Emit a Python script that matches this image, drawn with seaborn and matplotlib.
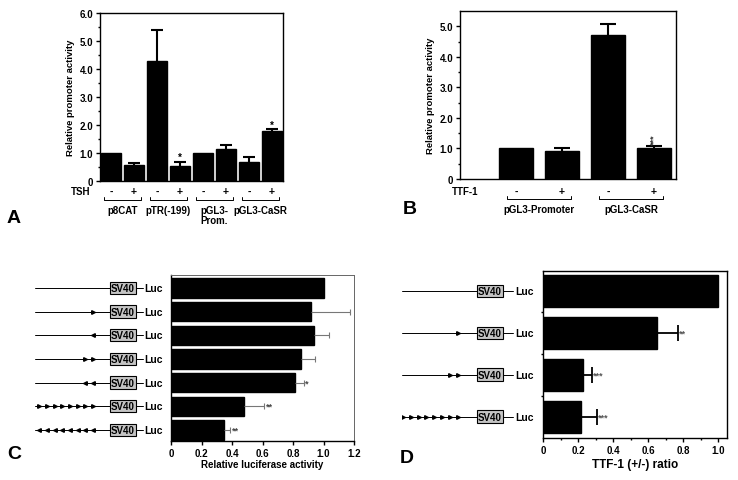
import matplotlib
matplotlib.use("Agg")
import matplotlib.pyplot as plt
import matplotlib.transforms as mtransforms
import numpy as np
import pandas as pd
import seaborn as sns

# ---- data ----
a_labels = ["p8CAT -", "p8CAT +", "pTR -", "pTR +", "Prom -", "Prom +", "CaSR -", "CaSR +"]
a_values = [1.0, 0.56, 4.30, 0.53, 1.0, 1.15, 0.68, 1.77]
a_sem = [0.0, 0.08, 1.10, 0.15, 0.0, 0.15, 0.18, 0.07]
a_stars = ["", "", "", "*", "", "", "", "*"]
a_signs = ["-", "+", "-", "+", "-", "+", "-", "+"]
a_groups = ["p8CAT", "pTR(-199)", "pGL3-\nProm.", "pGL3-CaSR"]

b_labels = ["Prom -", "Prom +", "CaSR -", "CaSR +"]
b_values = [1.0, 0.93, 4.72, 1.0]
b_sem = [0.0, 0.08, 0.36, 0.08]
b_stars = ["", "", "", "***"]
b_signs = ["-", "+", "-", "+"]
b_groups = ["pGL3-Promoter", "pGL3-CaSR"]

c_rows = ["c1", "c2", "c3", "c4", "c5", "c6", "c7"]
c_values = [1.0, 0.92, 0.935, 0.855, 0.815, 0.48, 0.345]
c_sem = [0.0, 0.255, 0.10, 0.09, 0.055, 0.13, 0.045]
c_stars = ["", "", "", "", "*", "**", "**"]
c_arrows = [0, 1, 1, 2, 2, 8, 8]
c_dirs = ["", ">", "<", ">", "<", ">", "<"]

d_rows = ["d1", "d2", "d3", "d4"]
d_values = [1.0, 0.65, 0.228, 0.218]
d_sem = [0.0, 0.118, 0.053, 0.091]
d_stars = ["", "**", "***", "***"]
d_arrows = [0, 1, 2, 8]
d_dirs = ["", ">", ">", ">"]

W, H = 738, 481
sns.set_theme(style="ticks")
plt.rcParams["font.family"] = ["Liberation Sans", "DejaVu Sans"]
plt.rcParams.update({
    "font.weight": "bold",
    "axes.labelweight": "bold",
    "text.color": "black",
    "axes.labelcolor": "black",
    "axes.edgecolor": "black",
    "xtick.color": "black",
    "ytick.color": "black",
    "axes.linewidth": 1.0,
    "xtick.major.width": 1.0,
    "ytick.major.width": 1.0,
    "xtick.major.size": 3,
    "ytick.major.size": 3,
    "xtick.major.pad": 2,
    "ytick.major.pad": 2,
})

fig = plt.figure(figsize=(W / 100, H / 100), dpi=100)


def px_axes(left, top, right, bottom, **kw):
    return fig.add_axes([left / W, 1 - bottom / H, (right - left) / W, (bottom - top) / H], **kw)


def one_sided(ax, pos, vals, sem, horizontal=False, **kw):
    idx = [i for i, s in enumerate(sem) if s > 0]
    p = np.array(pos, dtype=float)[idx]
    v = np.array(vals)[idx]
    e = np.array(sem)[idx]
    err = [np.zeros_like(e), e]
    if horizontal:
        cont = ax.errorbar(v, p, xerr=err, fmt="none", **kw)
    else:
        cont = ax.errorbar(p, v, yerr=err, fmt="none", **kw)
    cont[1][0].set_visible(False)


def under_labels(ax, signs, groups, title, sign_y, br_y, lab_y, br_lo, br_hi, title_x):
    tr = mtransforms.blended_transform_factory(ax.transData, ax.transAxes)
    for i, s in enumerate(signs):
        ax.text(i, sign_y, s, transform=tr, ha="center", va="center", fontsize=7.5, clip_on=False)
    ax.text(title_x, sign_y, title, transform=tr, ha="left", va="center", fontsize=7, clip_on=False)
    for g, name in enumerate(groups):
        x0, x1 = 2 * g + br_lo, 2 * g + br_hi
        ax.plot([x0, x0, x1, x1], [br_y + 0.018, br_y, br_y, br_y + 0.018], transform=tr,
                color="black", lw=0.7, clip_on=False)
        ax.text(2 * g + 0.5, lab_y, name, transform=tr, ha="center", va="top", fontsize=7,
                linespacing=1.0, clip_on=False)


# ---------------- panel A ----------------
ax_a = px_axes(100, 14, 283, 182)
df_a = pd.DataFrame({"bar": a_labels, "value": a_values})
sns.barplot(data=df_a, x="bar", y="value", color="black", edgecolor="black", width=0.9,
            saturation=1, ax=ax_a)
one_sided(ax_a, range(len(a_values)), a_values, a_sem, ecolor="black", elinewidth=1.5,
          capsize=4, capthick=1.5)
for i, s in enumerate(a_stars):
    if s:
        ax_a.text(i, a_values[i] + a_sem[i] + 0.0, s, ha="center", va="bottom", fontsize=7)
ax_a.set_xlim(-0.48, 7.48)
ax_a.set_ylim(0, 6.0)
ax_a.set_yticks(np.arange(0, 6.1, 1.0))
ax_a.set_yticklabels(["0"] + [f"{v:.1f}" for v in np.arange(1, 6.1, 1.0)], fontsize=7)
ax_a.set_yticks(np.arange(0.5, 6.0, 1.0), minor=True)
ax_a.tick_params(axis="y", which="minor", length=1.5)
ax_a.set_xticks([])
ax_a.set_xlabel("")
ax_a.set_ylabel("Relative promoter activity", fontsize=6.8, labelpad=3)
under_labels(ax_a, a_signs, a_groups, "TSH", -0.06, -0.113, -0.14, -0.3, 1.3, -1.75)
fig.text(7 / W, 1 - 227 / H, "A", fontsize=14, fontweight="bold", va="bottom")

# ---------------- panel B ----------------
ax_b = px_axes(460, 12, 676, 180)
df_b = pd.DataFrame({"bar": b_labels, "value": b_values})
sns.barplot(data=df_b, x="bar", y="value", color="black", edgecolor="black", width=0.74,
            saturation=1, ax=ax_b)
one_sided(ax_b, range(len(b_values)), b_values, b_sem, ecolor="black", elinewidth=1.5,
          capsize=5.5, capthick=1.5)
for i, s in enumerate(b_stars):
    if s:
        ax_b.text(i, b_values[i] + b_sem[i] + 0.06, s, ha="center", va="bottom", fontsize=6.5,
                  rotation=90, color="#333333")
ax_b.set_xlim(-1.22, 3.48)
ax_b.set_ylim(0, 5.5)
ax_b.set_yticks(np.arange(0, 5.1, 1.0))
ax_b.set_yticklabels(["0"] + [f"{v:.1f}" for v in np.arange(1, 5.1, 1.0)], fontsize=7)
ax_b.set_yticks(np.arange(0.5, 5.5, 1.0), minor=True)
ax_b.tick_params(axis="y", which="minor", length=1.5)
ax_b.set_xticks([])
ax_b.set_xlabel("")
ax_b.set_ylabel("Relative promoter activity", fontsize=6.8, labelpad=3)
under_labels(ax_b, b_signs, b_groups, "TTF-1", -0.071, -0.119, -0.146, -0.2, 1.2, -1.4)
fig.text(403 / W, 1 - 218 / H, "B", fontsize=14, fontweight="bold", va="bottom")


# ---------------- constructs ----------------
def draw_constructs(ax, counts, dirs, last_x, step, box_x, line_end, luc_x):
    for row, (n, d) in enumerate(zip(counts, dirs)):
        ax.plot([0, line_end], [row, row], color="black", lw=0.7, zorder=1)
        if n:
            xs = last_x - step * np.arange(n)[::-1]
            ax.plot(xs, [row] * n, linestyle="none", marker=d, markersize=2.6,
                    color="black", zorder=2)
        ax.text(box_x, row, "SV40", ha="center", va="center", fontsize=7, zorder=3,
                bbox=dict(boxstyle="square,pad=0.12", fc="#c4c4c4", ec="black", lw=0.8))
        ax.text(luc_x, row, "Luc", ha="left", va="center", fontsize=7.5, zorder=3)
    ax.set_xlim(0, 135)
    ax.axis("off")


# ---------------- panel C ----------------
ax_c = px_axes(171, 276, 354, 442)
df_c = pd.DataFrame({"row": c_rows, "value": c_values})
sns.barplot(data=df_c, x="value", y="row", orient="h", color="black", edgecolor="black",
            width=0.82, saturation=1, ax=ax_c)
one_sided(ax_c, range(len(c_values)), c_values, c_sem, horizontal=True, ecolor="#777777",
          elinewidth=0.8, capsize=2.5, capthick=0.8)
for i, s in enumerate(c_stars):
    if s:
        ax_c.text(c_values[i] + c_sem[i] + 0.01, i, s, ha="left", va="center", fontsize=6.5,
                  color="#444444")
ax_c.set_xlim(0, 1.2)
ax_c.set_ylim(6.47, -0.55)
ax_c.set_xticks(np.arange(0, 1.21, 0.2))
ax_c.set_xticklabels(["0"] + [f"{v:.1f}" for v in np.arange(0.2, 1.21, 0.2)], fontsize=7)
ax_c.set_yticks([])
ax_c.set_ylabel("")
ax_c.set_xlabel("Relative luciferase activity", fontsize=7, labelpad=1)
for sp in ["top", "right"]:
    ax_c.spines[sp].set_color("#666666")
    ax_c.spines[sp].set_linewidth(0.7)
cx = px_axes(35, 276, 170, 442, sharey=ax_c)
draw_constructs(cx, c_arrows, c_dirs, 58, 7.7, 88, 108, 109)
cx.set_ylim(6.47, -0.55)
fig.text(7 / W, 1 - 463 / H, "C", fontsize=14, fontweight="bold", va="bottom")

# ---------------- panel D ----------------
ax_d = px_axes(543, 272, 727, 439)
df_d = pd.DataFrame({"row": d_rows, "value": d_values})
sns.barplot(data=df_d, x="value", y="row", orient="h", color="black", edgecolor="black",
            width=0.76, saturation=1, ax=ax_d)
one_sided(ax_d, range(len(d_values)), d_values, d_sem, horizontal=True, ecolor="black",
          elinewidth=1.3, capsize=6, capthick=1.3)
for i, s in enumerate(d_stars):
    if s:
        ax_d.text(d_values[i] + d_sem[i] + 0.005, i, s, ha="left", va="center", fontsize=6.5,
                  color="#555555")
ax_d.set_xlim(0, 1.05)
ax_d.set_ylim(3.51, -0.47)
ax_d.set_xticks(np.arange(0, 1.01, 0.2))
ax_d.set_xticklabels(["0"] + [f"{v:.1f}" for v in np.arange(0.2, 1.01, 0.2)], fontsize=7)
ax_d.set_xticks(np.arange(0.1, 1.05, 0.2), minor=True)
ax_d.set_yticks([])
ax_d.set_yticks(np.arange(0.5, 3.0, 1.0), minor=True)
ax_d.tick_params(which="minor", length=1.5)
ax_d.set_ylabel("")
ax_d.set_xlabel("TTF-1 (+/-) ratio", fontsize=8.5, labelpad=2)
dx = px_axes(402, 272, 537, 439, sharey=ax_d)
draw_constructs(dx, d_arrows, d_dirs, 56, 7.9, 88, 111, 113)
dx.set_ylim(3.51, -0.47)
fig.text(400 / W, 1 - 467 / H, "D", fontsize=14, fontweight="bold", va="bottom")

fig.savefig("out.png", dpi=100)
